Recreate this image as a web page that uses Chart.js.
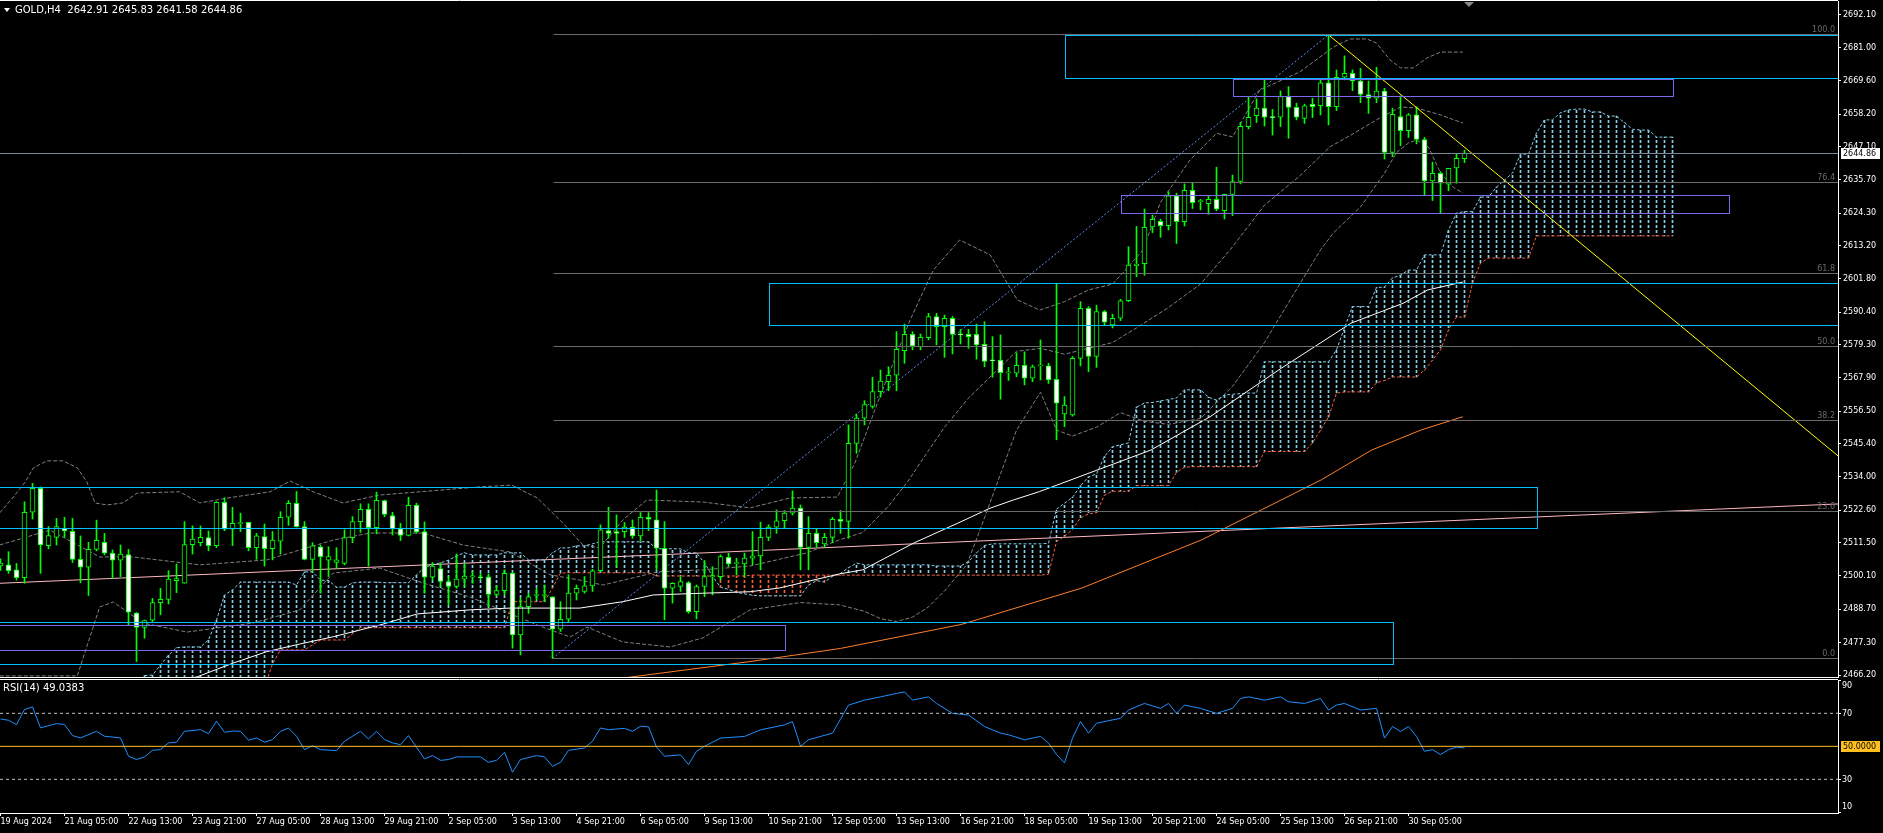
<!DOCTYPE html>
<html>
<head>
<meta charset="utf-8">
<title>GOLD,H4</title>
<script src="https://cdn.jsdelivr.net/npm/chart.js@4.4.1/dist/chart.umd.min.js"></script>
<style>
  html, body { margin: 0; padding: 0; background: #000; overflow: hidden; }
  #box { position: relative; width: 1883px; height: 833px; }
  canvas { position: absolute; left: 0; }
  #main { top: 0; }
  #rsi { top: 679px; }
</style>
</head>
<body>
<div id="box">
  <canvas id="main" width="1883" height="679"></canvas>
  <canvas id="rsi" width="1883" height="154"></canvas>
</div>
<script>
// ---------- data ----------
const titleText = 'GOLD,H4  2642.91 2645.83 2641.58 2644.86';
const rsiTitle = 'RSI(14) 49.0383';

// one label every 8 bars, starting at bar 0
const timeLabels = ['19 Aug 2024', '21 Aug 05:00', '22 Aug 13:00', '23 Aug 21:00', '27 Aug 05:00',
  '28 Aug 13:00', '29 Aug 21:00', '2 Sep 05:00', '3 Sep 13:00', '4 Sep 21:00', '6 Sep 05:00',
  '9 Sep 13:00', '10 Sep 21:00', '12 Sep 05:00', '13 Sep 13:00', '16 Sep 21:00', '18 Sep 05:00',
  '19 Sep 13:00', '20 Sep 21:00', '24 Sep 05:00', '25 Sep 13:00', '26 Sep 21:00', '30 Sep 05:00'];

const priceTicks = [2692.10, 2681.00, 2669.60, 2658.20, 2647.10, 2635.70, 2624.30, 2613.20, 2601.80,
  2590.40, 2579.30, 2567.90, 2556.50, 2545.40, 2534.00, 2522.60, 2511.50, 2500.10, 2488.70, 2477.30, 2466.20];
const rsiTicks = [90, 70, 30, 10];

const opens = [2503.5,2503.9,2502.2,2499.5,2521.9,2530.1,2510.5,2513.3,2516.4,2515.4,2505.8,2503.1,2509.2,2511.6,2507.9,2505.5,2507.4,2487.4,2482.5,2485.0,
  2491.0,2492.1,2498.5,2497.6,2510.8,2511.5,2513.2,2510.5,2525.3,2516.1,2518.0,2518.5,2509.8,2513.6,2509.4,2512.0,2520.2,2525.0,2517.0,2505.8,
  2510.1,2505.5,2504.7,2504.4,2513.2,2518.7,2522.9,2516.6,2525.9,2520.8,2516.2,2514.0,2524.3,2515.3,2499.7,2502.6,2498.2,2496.5,2499.0,2499.8,
  2499.7,2499.7,2493.8,2495.1,2501.0,2479.9,2489.6,2493.4,2493.4,2493.0,2481.9,2485.3,2494.2,2494.8,2496.7,2501.9,2515.6,2515.3,2515.3,2516.8,
  2513.8,2520.2,2519.3,2509.6,2495.9,2496.5,2497.8,2487.9,2496.5,2499.8,2499.9,2506.5,2504.3,2504.2,2506.2,2507.0,2513.3,2516.8,2519.0,2521.6,
  2523.3,2509.9,2514.7,2511.1,2513.3,2519.5,2518.8,2545.5,2554.1,2558.1,2563.2,2566.6,2568.8,2577.2,2582.8,2578.6,2581.7,2588.9,2585.4,2588.3,
  2582.8,2582.8,2582.8,2579.4,2573.8,2574.0,2569.6,2569.5,2572.2,2567.8,2572.0,2572.0,2567.4,2555.6,2555.2,2574.6,2591.7,2575.2,2590.6,2586.0,
  2588.3,2594.3,2606.3,2607.0,2619.6,2621.5,2620.0,2630.2,2621.4,2632.1,2628.2,2627.5,2629.0,2625.1,2630.7,2635.1,2653.9,2657.6,2660.2,2657.2,
  2657.1,2664.2,2660.5,2656.7,2661.5,2661.1,2668.9,2660.7,2670.8,2672.1,2669.5,2664.9,2663.6,2666.1,2645.1,2657.3,2652.5,2657.9,2649.5,2635.3,
  2637.9,2634.2,2639.8,2642.91];
const highs = [2506.0,2508.4,2504.4,2525.5,2531.8,2530.6,2517.0,2519.8,2520.2,2519.8,2513.8,2511.6,2519.2,2514.7,2509.0,2510.7,2509.2,2487.6,2485.0,2492.4,
  2495.9,2501.9,2504.2,2518.7,2517.2,2517.2,2515.5,2525.5,2526.9,2523.6,2521.6,2518.5,2514.7,2517.9,2515.3,2522.1,2525.9,2529.0,2518.7,2511.5,
  2510.7,2510.1,2509.8,2515.9,2520.4,2524.8,2524.8,2528.8,2526.1,2521.9,2518.1,2527.0,2525.0,2518.6,2504.7,2504.4,2499.9,2507.6,2504.4,2501.6,
  2501.0,2500.8,2496.7,2502.2,2501.3,2492.5,2494.2,2495.9,2497.0,2493.0,2491.3,2500.5,2497.0,2499.9,2502.4,2517.6,2523.6,2521.0,2518.4,2519.3,
  2521.8,2521.8,2529.5,2518.7,2497.8,2499.9,2498.2,2497.0,2505.4,2503.3,2507.3,2507.9,2506.2,2507.9,2515.3,2518.5,2517.6,2522.7,2522.5,2529.2,
  2524.4,2520.4,2516.4,2514.7,2520.2,2522.5,2551.8,2555.5,2560.1,2568.1,2570.6,2571.7,2583.7,2586.3,2583.7,2582.9,2590.0,2590.0,2589.4,2588.9,
  2584.5,2584.5,2586.3,2587.1,2582.0,2582.6,2571.5,2576.5,2576.8,2572.3,2580.9,2572.9,2600.3,2561.5,2575.2,2594.0,2592.3,2592.8,2591.0,2589.7,
  2594.8,2612.8,2619.7,2625.7,2623.6,2622.2,2631.6,2631.1,2634.3,2634.8,2629.0,2630.2,2640.0,2630.8,2637.3,2655.4,2663.9,2663.4,2669.9,2659.8,
  2666.1,2667.6,2661.9,2661.6,2663.6,2669.9,2685.3,2673.3,2678.1,2673.3,2673.8,2669.5,2674.2,2667.0,2660.2,2664.4,2658.4,2660.7,2650.2,2641.7,
  2638.5,2639.6,2644.5,2645.83];
const lows = [2502.0,2501.0,2498.7,2497.6,2519.6,2501.0,2509.4,2510.7,2513.3,2504.7,2497.8,2493.4,2508.7,2507.3,2499.3,2499.9,2483.3,2470.8,2478.8,2484.5,
  2486.8,2490.5,2494.4,2497.6,2507.6,2510.4,2508.7,2509.8,2515.6,2510.5,2515.3,2508.7,2505.8,2503.5,2505.6,2507.6,2517.4,2516.8,2505.6,2501.6,
  2494.2,2499.9,2502.7,2503.9,2511.5,2515.0,2503.5,2514.5,2520.4,2514.1,2512.2,2513.8,2514.7,2494.2,2498.7,2496.5,2490.2,2495.9,2496.5,2497.6,
  2498.7,2489.6,2493.3,2493.6,2475.4,2473.1,2487.3,2491.9,2491.3,2471.9,2481.1,2484.5,2491.9,2494.2,2494.8,2501.6,2513.0,2503.3,2513.3,2513.0,
  2512.2,2515.6,2502.2,2485.1,2490.8,2494.8,2487.3,2485.4,2493.0,2493.6,2498.7,2503.3,2500.5,2499.9,2503.9,2502.2,2512.2,2514.7,2516.4,2521.0,
  2502.2,2502.2,2509.9,2510.1,2511.5,2514.7,2513.0,2542.1,2551.8,2557.5,2561.3,2563.5,2563.5,2572.9,2577.5,2577.5,2580.9,2579.2,2574.9,2576.1,
  2579.5,2578.0,2574.3,2571.7,2568.1,2560.6,2567.0,2568.3,2565.5,2566.6,2567.2,2566.0,2546.7,2551.2,2554.8,2572.0,2570.0,2571.5,2586.0,2585.0,
  2587.5,2594.0,2602.5,2603.0,2617.6,2616.0,2618.5,2613.9,2619.9,2625.9,2625.4,2623.9,2625.1,2622.3,2623.4,2634.3,2653.1,2655.3,2654.1,2651.0,
  2653.9,2649.9,2656.2,2655.0,2657.0,2657.9,2654.5,2659.4,2669.9,2666.2,2662.1,2658.4,2662.1,2642.8,2643.6,2647.4,2650.2,2648.0,2630.5,2628.6,
  2624.2,2632.0,2634.5,2641.58];
const closes = [2504.5,2501.9,2499.5,2521.9,2530.1,2510.7,2513.9,2517.0,2515.5,2505.8,2503.1,2509.2,2512.3,2507.9,2505.5,2507.6,2487.7,2482.5,2484.8,2491.0,
  2492.1,2499.0,2499.2,2510.8,2512.7,2513.3,2510.5,2525.3,2516.1,2518.1,2518.2,2509.8,2513.8,2509.4,2512.4,2520.2,2525.0,2517.0,2505.8,2510.4,
  2506.7,2506.7,2505.6,2513.2,2518.7,2522.9,2516.6,2526.0,2521.2,2516.2,2514.0,2524.3,2515.2,2499.7,2503.5,2498.2,2496.5,2499.0,2500.1,2500.0,
  2499.5,2493.8,2495.1,2501.0,2479.9,2489.6,2493.0,2493.6,2493.5,2481.9,2485.3,2494.2,2495.9,2496.7,2501.9,2515.9,2514.7,2514.7,2516.8,2513.8,
  2520.2,2519.5,2509.6,2495.9,2497.6,2498.2,2487.9,2496.5,2499.9,2500.2,2506.7,2504.2,2504.4,2506.2,2507.0,2513.3,2516.8,2519.0,2521.6,2523.3,
  2509.9,2514.7,2511.5,2513.3,2519.5,2518.8,2545.5,2554.1,2558.8,2563.2,2566.8,2568.8,2577.7,2582.8,2578.8,2581.8,2588.9,2585.4,2588.3,2582.8,
  2582.6,2582.0,2579.2,2573.5,2573.7,2569.7,2569.9,2572.2,2567.8,2571.7,2572.3,2567.2,2559.2,2558.6,2574.6,2591.7,2575.2,2590.6,2587.0,2588.3,
  2594.3,2606.5,2606.8,2619.4,2622.2,2620.0,2630.2,2621.4,2632.1,2627.9,2628.3,2629.0,2625.6,2630.7,2635.1,2654.0,2657.1,2660.2,2657.1,2657.0,
  2664.2,2660.5,2657.1,2661.0,2660.7,2668.9,2660.7,2670.8,2672.1,2669.5,2664.9,2663.6,2666.1,2645.1,2658.1,2652.5,2657.9,2649.5,2635.3,2637.9,
  2634.5,2639.6,2643.0,2644.86];
const lastPrice = 2644.86;

// Ichimoku Senkou spans, one value per bar from cloudStart
const cloudStart = 18;
const spanA = [2466.0,2466.2,2469.6,2473.0,2475.5,2475.8,2475.8,2475.8,2478.2,2485.0,2493.6,2495.3,2498.0,2498.0,2498.0,2498.0,2498.0,2498.0,2498.0,2497.0,
  2501.5,2501.5,2498.7,2498.5,2496.3,2496.3,2497.7,2498.0,2498.0,2498.0,2497.8,2497.8,2497.8,2497.8,2500.5,2503.0,2504.0,2504.6,2505.5,2507.0,
  2508.0,2507.3,2507.3,2507.3,2507.3,2508.0,2508.0,2508.0,2505.6,2505.6,2505.6,2508.0,2509.7,2509.7,2510.4,2510.4,2511.1,2511.8,2511.8,2511.8,
  2511.8,2511.8,2511.8,2511.8,2509.4,2509.4,2509.4,2509.4,2508.0,2508.0,2504.6,2500.0,2496.3,2495.5,2494.5,2494.0,2493.5,2493.3,2493.3,2493.3,
  2493.3,2493.3,2493.3,2497.0,2498.5,2498.0,2500.0,2501.0,2502.9,2504.5,2503.9,2503.9,2503.9,2503.9,2503.9,2503.9,2503.9,2503.9,2503.9,2503.5,
  2503.5,2503.5,2503.5,2505.0,2508.0,2510.5,2511.1,2511.1,2511.1,2511.1,2511.1,2511.1,2511.1,2511.3,2523.0,2525.0,2527.0,2531.0,2534.0,2535.0,
  2541.0,2544.3,2545.0,2545.6,2557.9,2559.3,2559.5,2560.0,2560.5,2561.0,2563.8,2563.8,2563.8,2561.3,2560.3,2562.0,2562.3,2562.5,2562.7,2562.7,
  2573.4,2573.4,2573.4,2573.4,2573.4,2573.4,2573.4,2573.4,2573.4,2577.5,2585.0,2592.3,2592.3,2592.3,2598.8,2599.0,2602.1,2603.1,2604.8,2604.8,
  2610.0,2610.0,2610.0,2618.5,2624.3,2624.8,2624.8,2629.8,2629.8,2633.2,2635.6,2638.0,2644.5,2644.5,2651.7,2656.2,2656.2,2658.6,2659.6,2659.9,
  2659.9,2658.9,2658.9,2657.5,2657.5,2655.2,2653.0,2652.7,2652.7,2650.3,2650.3,2650.3];
const spanB = [2455,2455,2455,2455,2455,2455,2455,2455,2455,2455,2455,2455,2455,2455,2455,2462.0,2470.0,2474.8,2474.8,2474.8,
  2474.8,2476.5,2478.2,2478.2,2478.2,2478.2,2480.2,2482.5,2482.4,2482.4,2482.4,2482.4,2482.4,2482.4,2482.4,2482.4,2482.4,2482.4,2482.4,2482.4,
  2482.4,2482.4,2482.4,2482.4,2482.4,2482.4,2491.3,2491.3,2491.3,2491.3,2491.3,2496.0,2501.1,2501.2,2501.2,2501.2,2501.2,2501.2,2501.2,2501.2,
  2501.2,2501.2,2501.2,2501.2,2500.1,2500.1,2500.1,2500.1,2500.1,2500.1,2500.1,2500.1,2500.1,2500.1,2500.1,2500.1,2500.4,2500.4,2500.4,2500.4,
  2500.4,2500.4,2500.4,2500.4,2500.4,2500.4,2500.4,2500.4,2500.4,2500.4,2500.4,2500.4,2500.4,2500.4,2500.4,2500.4,2500.4,2500.4,2500.4,2500.4,
  2500.4,2500.4,2500.4,2500.4,2500.4,2500.4,2500.4,2500.4,2500.4,2500.4,2500.4,2500.4,2500.4,2500.7,2511.9,2513.7,2516.0,2520.0,2521.3,2521.8,
  2527.8,2529.1,2529.1,2529.1,2531.0,2531.0,2531.0,2531.0,2531.0,2535.6,2537.3,2537.5,2537.5,2537.5,2537.5,2537.5,2537.5,2537.5,2537.5,2537.5,
  2542.7,2542.7,2542.7,2542.7,2542.7,2542.7,2545.6,2550.0,2554.5,2562.7,2563.1,2563.1,2563.1,2563.1,2566.2,2567.0,2568.2,2568.2,2568.2,2568.2,
  2570.6,2574.0,2577.5,2584.3,2588.7,2588.7,2600.4,2607.2,2608.9,2608.9,2608.9,2608.9,2608.9,2608.9,2616.5,2616.5,2616.5,2616.5,2616.5,2616.5,
  2616.5,2616.5,2616.5,2616.5,2616.5,2616.5,2616.5,2616.5,2616.5,2616.5,2616.5,2616.5];

// Bollinger bands, [bar, price] vertices
const bbUpper = [[-0.1,2521.7],[1.6,2527.1],[3.1,2532.3],[4.1,2537.1],[5.8,2539.5],[7.8,2539.5],[9.6,2537.1],[10.8,2532.3],[11.8,2525.1],
  [13.3,2524.4],[15.3,2525.1],[17.1,2528.5],[22.4,2528.9],[24.9,2525.1],[29.1,2527.1],[33.7,2528.9],[36.2,2532.6],[39.1,2528.9],[42.8,2525.1],
  [47.4,2527.8],[52.4,2528.9],[59.9,2530.6],[63.9,2531.2],[67.1,2526.8],[70.3,2518.2],[72.8,2510.7],[74.9,2509.7],[77.8,2519.3],[80.8,2526.1],
  [87.8,2525.4],[93.7,2523.4],[98.7,2526.8],[104.6,2527.1],[106.8,2538.8],[109.9,2561.3],[113.7,2587.7],[116.6,2604.8],[119.9,2615.1],
  [123.7,2610.0],[127.1,2594.6],[129.9,2591.1],[133,2594.0],[136,2598.0],[139,2600.0],[141,2606.0],[142.8,2611.7],[145,2628.0],[148.7,2642.5],
  [152,2651.6],[154,2650.4],[157.4,2666.4],[162.4,2672.6],[166.6,2681.1],[168.7,2683.9],[170.8,2683.9],[172,2682.5],[173.7,2676.7],[175,2674.0],
  [176.6,2674.0],[178.3,2677.4],[180,2679.4],[182.8,2679.4]];
const bbMiddle = [[-0.1,2510.7],[6.2,2515.8],[12.4,2506.6],[16.6,2506.6],[24.9,2503.9],[33.3,2505.6],[37.4,2509.0],[41.6,2512.4],[46.2,2514.8],
  [52.8,2514.8],[57.8,2510.7],[63.7,2508.3],[68.7,2500.5],[72.4,2498.7],[75.3,2497.0],[79.6,2499.8],[82.1,2501.5],[87.8,2502.2],[93.7,2503.5],
  [100.8,2508.0],[104.9,2512.5],[107.8,2515.0],[111,2524.0],[113.3,2532.0],[116,2543.0],[118,2551.0],[121,2561.0],[124,2569.0],[127,2577.0],
  [130,2578.0],[133,2576.0],[136,2578.0],[139,2580.0],[142,2585.0],[146,2592.0],[150,2600.0],[153.7,2611.7],[158,2627.0],[162.4,2637.0],
  [166.2,2647.0],[168.8,2651.0],[172,2656.2],[175,2660.6],[177,2660.3],[180,2657.9],[182.8,2655.1]];
const bbLower = [[-0.1,2465.9],[9.6,2465.9],[12.4,2489.5],[14.1,2491.2],[17.8,2484.0],[23.3,2480.9],[31.6,2484.0],[37.4,2488.5],[41.6,2501.1],
  [47.4,2502.8],[52.8,2497.7],[58.7,2492.9],[67.1,2483.3],[71.2,2479.2],[73.3,2482.6],[77.8,2477.5],[83.7,2475.8],[87.8,2478.9],[93.7,2488.5],
  [100.0,2491.0],[104.9,2490.2],[108,2488.0],[110,2485.5],[112,2484.5],[114,2486.0],[116,2489.5],[118,2495.0],[120.8,2504.0],[123,2520.0],
  [125,2535.0],[127,2550.0],[130,2563.0],[132,2550.0],[134,2548.0],[137,2551.0],[140,2556.0],[143,2553.0],[146,2552.0],[150,2554.0],
  [154,2565.0],[158,2580.0],[162.4,2600.0],[165,2611.7],[166.6,2617.5],[170,2626.4],[173,2638.0],[174.5,2645.0],[176,2648.3],[177,2649.3],
  [178.5,2646.9],[180,2638.0],[181.7,2632.9],[182.8,2631.2]];

// moving averages, [bar, price] vertices
const maWhite = [[23.9,2465.2],[24.6,2465.6],[29.1,2470.3],[33.3,2474.2],[37.4,2476.8],[41.6,2479.3],[45.8,2482.2],[47.4,2483.3],[52.1,2487.1],
  [58.7,2488.5],[63.7,2489.1],[72.4,2489.1],[77.8,2491.3],[81.6,2493.6],[87.8,2494.2],[93.7,2494.7],[97.4,2496.0],[104.9,2500.8],[107.8,2502.2],
  [114.1,2511.3],[119.6,2518.1],[123.7,2523.3],[126.6,2526.1],[129.9,2529.0],[143.8,2543.2],[151.2,2554.6],[160.1,2571.2],[168.8,2586.6],
  [175.3,2593.4],[178.4,2598.0],[182.8,2600.7]];
const maOrange = [[77.9,2465.2],[93.7,2470.8],[105.0,2475.3],[120.1,2483.5],[135.1,2495.9],[150.1,2512.4],[165.1,2533.0],[171.4,2543.2],
  [177.6,2550.1],[182.8,2554.6]];

// RSI(14), [bar, value] vertices
const rsiPoints = [[0,66.6],[1,65.8],[2,63.2],[3,72.3],[4,73.9],[5,61.2],[7,63.8],[8,63.2],[9,56.5],[10,55.1],[12,59.1],[13,56.1],[15,55.1],
  [16,44.0],[17,42.0],[18,43.6],[19,47.6],[20,48.0],[21,52.1],[22,52.5],[23,59.1],[25,60.1],[26,57.7],[27,65.2],[28,58.5],[29,59.3],[30,59.1],
  [31,53.7],[32,55.1],[33,52.5],[34,54.1],[35,59.1],[36,61.1],[37,56.1],[38,48.0],[39,50.4],[40,48.0],[42,47.4],[43,53.1],[45,59.1],[46,54.5],
  [47,59.1],[48,54.1],[49,52.1],[50,51.0],[51,56.5],[53,42.4],[54,44.4],[55,41.5],[56,42.0],[57,43.6],[60,43.6],[61,40.3],[62,41.5],[63,46.4],
  [64,34.3],[65,42.0],[67,44.4],[68,43.6],[69,37.9],[70,40.3],[71,47.6],[73,49.0],[74,53.1],[75,61.1],[76,60.1],[78,60.9],[79,59.1],[80,62.2],
  [81,61.8],[82,49.6],[83,44.0],[85,44.8],[86,38.9],[87,47.0],[88,50],[90,55],[93,56],[95,60],[98,63],[99,65],[100,50],[101,54],[104,58],
  [106,75],[108,78],[110,80],[112,82],[113,83],[114,78],[116,80],[117,76],[119,70],[121,69],[123,62],[125,58],[126,57],[128,54],[130,56],
  [131,52],[132,45],[133,40],[134,55],[135,65],[136,58],[137,64],[140,67],[141,72],[143,76],[145,73],[146,76],[147,70],[148,75],[150,73],
  [152,70],[154,73],[155,79],[156,80],[158,78],[160,80],[161,77],[163,76],[165,79],[166,72],[167,75],[168,76],[170,72],[172,73],[173,55],
  [174,62],[175,59],[176,62],[177,56],[178,47],[179,48],[180,45],[181,48],[182,49.5],[183,49.04]];

// drawn objects: trend lines [bar, price] pairs, fibo, zones [fromBar, toBar, top, bottom]
const trendPink = [[-0.0625,2497.6],[229.6875,2524.75]];
const trendYellow = [[166,2685.3],[229.6875,2541.2]];
const trendBlue = [[69,2471.9],[166,2685.3]];
const fiboFrom = 69, fiboLow = 2471.9, fiboHigh = 2685.5;
const fiboLevels = [0, 23.6, 38.2, 50, 61.8, 76.4, 100];
const cyanZones = [[133,240,2685.3,2670.4],[96,240,2600.3,2586.0],[-5,192,2530.5,2516.4],[-5,174,2484.3,2469.9]];
const purpleZones = [[154,209,2670.1,2664.3],[140,216,2630.4,2624.2],[-5,98,2483.3,2474.7]];

// ---------- chart ----------
const X_MIN = -0.0625, X_MAX = 229.6875;   // 8 px per bar
const Y_MIN = 2465.52, Y_MAX = 2696.89;
const FONT = {family: 'DejaVu Sans', size: 8};
const GREEN = '#00ff00';

function hatch(color) {
  const c = document.createElement('canvas');
  c.width = 1; c.height = 5;
  const g = c.getContext('2d');
  g.fillStyle = color;
  g.fillRect(0, 0, 1, 3);
  return g.createPattern(c, 'repeat');
}
const pts = arr => arr.map(p => ({x: p[0], y: p[1]}));
const lineDs = (data, color, dash, width) => ({
  type: 'line', data: pts(data), borderColor: color, borderWidth: width || 1, borderDash: dash || [],
  pointRadius: 0, tension: 0, clip: 0, order: 5
});
const noPad = s => { s.paddingTop = 0; s.paddingBottom = 0; s.paddingLeft = 0; s.paddingRight = 0; };

const idx = opens.map((_, i) => i);
const hatchUp = [], hatchDown = [];
spanA.forEach((a, k) => {
  const b = spanB[k], i = cloudStart + k;
  if (a >= b) hatchUp.push({x: i, y: [b, a]}); else hatchDown.push({x: i, y: [a, b]});
});

const objectsPlugin = {
  id: 'objects',
  afterDatasetsDraw(chart) {
    const {ctx, chartArea: a, scales: {x, y}} = chart;
    const px = v => Math.round(x.getPixelForValue(v)) + 0.5;
    const py = v => Math.round(y.getPixelForValue(v)) + 0.5;
    ctx.save();
    ctx.beginPath(); ctx.rect(a.left, a.top, a.right - a.left, a.bottom - a.top); ctx.clip();
    ctx.lineWidth = 1;
    // current price line
    ctx.strokeStyle = '#778899';
    ctx.beginPath(); ctx.moveTo(a.left, py(lastPrice)); ctx.lineTo(a.right, py(lastPrice)); ctx.stroke();
    // fibo
    ctx.strokeStyle = '#6a6a6a';
    ctx.fillStyle = '#6a6a6a';
    ctx.font = '8px "DejaVu Sans"';
    ctx.textAlign = 'right';
    ctx.textBaseline = 'bottom';
    fiboLevels.forEach(l => {
      const v = fiboLow + (fiboHigh - fiboLow) * l / 100;
      ctx.beginPath(); ctx.moveTo(px(fiboFrom), py(v)); ctx.lineTo(a.right, py(v)); ctx.stroke();
      ctx.fillText(l.toFixed(1), a.right - 3, py(v) - 1);
    });
    // zones
    const zone = (z, color) => {
      ctx.strokeStyle = color;
      const x1 = px(z[0]), x2 = px(z[1]), y1 = py(z[2]), y2 = py(z[3]);
      ctx.strokeRect(x1, y1, x2 - x1, y2 - y1);
    };
    cyanZones.forEach(z => zone(z, '#00bfff'));
    purpleZones.forEach(z => zone(z, '#7b68ee'));
    ctx.restore();
  },
  afterDraw(chart) {
    const {ctx, chartArea: a, scales: {x, y}} = chart;
    ctx.save();
    // frame
    ctx.strokeStyle = '#ffffff';
    ctx.lineWidth = 1;
    ctx.beginPath();
    ctx.moveTo(0, a.top - 0.5); ctx.lineTo(a.right, a.top - 0.5);
    ctx.moveTo(0, a.bottom + 0.5); ctx.lineTo(a.right, a.bottom + 0.5);
    ctx.stroke();
    // title
    ctx.fillStyle = '#ffffff';
    ctx.beginPath(); ctx.moveTo(4, 8); ctx.lineTo(10, 8); ctx.lineTo(7, 12); ctx.closePath(); ctx.fill();
    ctx.font = '10px "DejaVu Sans"';
    ctx.textAlign = 'left'; ctx.textBaseline = 'middle';
    ctx.fillText(titleText, 15, 10);
    // shift marker
    const sx = Math.round(x.getPixelForValue(closes.length - 0.5));
    ctx.fillStyle = '#8a8a8a';
    ctx.beginPath(); ctx.moveTo(sx - 5, a.top + 1); ctx.lineTo(sx + 5, a.top + 1); ctx.lineTo(sx, a.top + 6); ctx.closePath(); ctx.fill();
    // last price box
    const ly = Math.round(y.getPixelForValue(lastPrice));
    ctx.fillStyle = '#ffffff';
    ctx.fillRect(a.right + 3, ly - 5, 39, 11);
    ctx.fillStyle = '#000000';
    ctx.font = '8px "DejaVu Sans"';
    ctx.fillText(lastPrice.toFixed(2), a.right + 5, ly + 0.5);
    ctx.restore();
  }
};

new Chart(document.getElementById('main'), {
  type: 'bar',
  data: {
    datasets: [
      {type: 'bar', data: hatchUp, backgroundColor: hatch('#87ceeb'), barThickness: 1, grouped: false, clip: 0, order: 9},
      {type: 'bar', data: hatchDown, backgroundColor: hatch('#ff5a3c'), barThickness: 1, grouped: false, clip: 0, order: 9},
      lineDs(spanA.map((v, k) => [cloudStart + k, v]), '#87ceeb', [3, 2]),
      lineDs(spanB.map((v, k) => [cloudStart + k, v]), '#ff5a3c', [3, 2]),
      lineDs(bbUpper, '#808080', [4, 2]),
      lineDs(bbMiddle, '#808080', [4, 2]),
      lineDs(bbLower, '#808080', [4, 2]),
      lineDs(trendPink, '#ffb6c1'),
      lineDs(trendBlue, '#5b8def', [2, 2]),
      {type: 'bar', data: idx.map(i => ({x: i, y: [lows[i], highs[i]]})), backgroundColor: GREEN,
        barThickness: 1, grouped: false, clip: 0, order: 3},
      {type: 'bar', data: idx.map(i => ({x: i, y: [Math.min(opens[i], closes[i]), Math.max(opens[i], closes[i])]})),
        backgroundColor: idx.map(i => closes[i] >= opens[i] ? '#000000' : '#ffffff'),
        borderColor: GREEN, borderWidth: 1, borderSkipped: false, minBarLength: 1,
        barThickness: 5, grouped: false, clip: 0, order: 2},
      Object.assign(lineDs(maWhite, '#ffffff'), {order: 1}),
      Object.assign(lineDs(maOrange, '#ff7f27'), {order: 1}),
      Object.assign(lineDs(trendYellow, '#ffff00'), {order: 1})
    ]
  },
  options: {
    responsive: false,
    animation: false,
    events: [],
    layout: {padding: {top: 1, bottom: 2, left: 0, right: 0}},
    plugins: {legend: {display: false}, tooltip: {enabled: false}},
    scales: {
      x: {type: 'linear', min: X_MIN, max: X_MAX, offset: false, display: false},
      y: {
        type: 'linear', position: 'right', min: Y_MIN, max: Y_MAX,
        afterBuildTicks: s => { s.ticks = priceTicks.map(v => ({value: v})); },
        afterFit: s => { s.width = 45; noPad(s); },
        ticks: {color: '#ffffff', font: FONT, padding: 2, autoSkip: false, callback: v => v.toFixed(2)},
        grid: {drawOnChartArea: false, drawTicks: true, tickLength: 3, color: '#ffffff'},
        border: {display: true, color: '#ffffff'}
      }
    }
  },
  plugins: [objectsPlugin]
});

const rsiPlugin = {
  id: 'rsiAxis',
  afterDraw(chart) {
    const {ctx, chartArea: a, scales: {y}} = chart;
    ctx.save();
    ctx.strokeStyle = '#ffffff';
    ctx.lineWidth = 1;
    ctx.beginPath();
    ctx.moveTo(0, a.top - 0.5); ctx.lineTo(a.right, a.top - 0.5);
    ctx.moveTo(0, a.bottom + 0.5); ctx.lineTo(a.right, a.bottom + 0.5);
    ctx.stroke();
    ctx.fillStyle = '#ffffff';
    ctx.font = '8px "DejaVu Sans"';
    ctx.textAlign = 'left'; ctx.textBaseline = 'middle';
    rsiTicks.forEach(v => {
      const p = Math.round(y.getPixelForValue(v)) + 0.5;
      ctx.beginPath(); ctx.moveTo(a.right, p); ctx.lineTo(a.right + 3, p); ctx.stroke();
      const ty = Math.min(Math.max(p, a.top + 6), a.bottom - 6);
      ctx.fillText(String(v), a.right + 4, ty);
    });
    const p50 = Math.round(y.getPixelForValue(50));
    ctx.fillStyle = '#ffbf1f';
    ctx.fillRect(a.right + 3, p50 - 5, 39, 11);
    ctx.fillStyle = '#000000';
    ctx.fillText('50.0000', a.right + 5, p50 + 0.5);
    ctx.fillStyle = '#ffffff';
    ctx.font = '10px "DejaVu Sans"';
    ctx.fillText(rsiTitle, 3, a.top + 8);
    ctx.restore();
  }
};

new Chart(document.getElementById('rsi'), {
  type: 'line',
  data: {
    datasets: [
      lineDs([[X_MIN, 70], [X_MAX, 70]], '#c0c0c0', [3, 3]),
      lineDs([[X_MIN, 30], [X_MAX, 30]], '#c0c0c0', [3, 3]),
      lineDs([[X_MIN, 50], [X_MAX, 50]], '#ffbf1f'),
      lineDs(rsiPoints, '#1e90ff')
    ]
  },
  options: {
    responsive: false,
    animation: false,
    events: [],
    layout: {padding: {top: 1, bottom: 0, left: 0, right: 0}},
    plugins: {legend: {display: false}, tooltip: {enabled: false}},
    scales: {
      x: {
        type: 'linear', min: X_MIN, max: X_MAX, offset: false,
        afterBuildTicks: s => { s.ticks = timeLabels.map((_, k) => ({value: k * 8})); },
        afterFit: s => { s.height = 20; noPad(s); },
        ticks: {color: '#ffffff', font: FONT, padding: 1, autoSkip: false, maxRotation: 0, align: 'start',
          callback: v => timeLabels[Math.round(v / 8)]},
        grid: {drawOnChartArea: false, drawTicks: true, tickLength: 3, color: '#ffffff'},
        border: {display: true, color: '#ffffff'}
      },
      y: {
        type: 'linear', position: 'right', min: 9.6, max: 90.2,
        afterFit: s => { s.width = 45; noPad(s); },
        ticks: {display: false},
        grid: {display: false},
        border: {display: true, color: '#ffffff'}
      }
    }
  },
  plugins: [rsiPlugin]
});
</script>
</body>
</html>
